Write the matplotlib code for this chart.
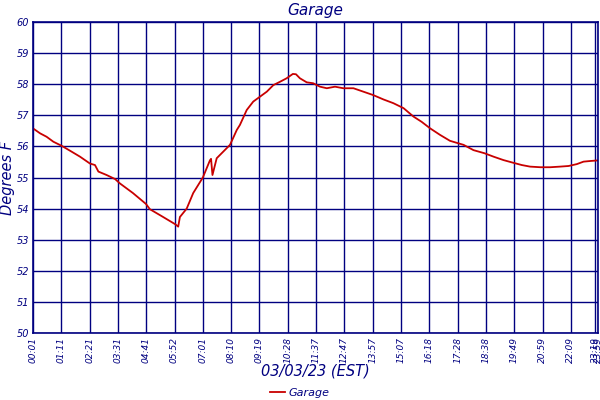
import matplotlib
matplotlib.use("Agg")
import matplotlib.pyplot as plt

# position along the x axis, in grid-column units (one column per tick label)
pos = [0.00, 0.25, 0.48, 0.72, 1.01, 1.31, 1.66, 2.01, 2.19, 2.31, 2.60, 2.90,
       3.07, 3.53, 3.99, 4.13, 4.56, 5.02, 5.13, 5.19, 5.43, 5.66, 6.00, 6.25,
       6.29, 6.34, 6.49, 6.96, 7.20, 7.31, 7.55, 7.78, 8.02, 8.26, 8.49, 8.73,
       8.96, 9.18, 9.29, 9.43, 9.67, 9.90, 10.14, 10.38, 10.67, 10.96, 11.32,
       11.67, 12.02, 12.38, 12.73, 13.09, 13.44, 13.73, 14.03, 14.38, 14.73,
       14.95, 15.21, 15.56, 15.95, 16.27, 16.62, 16.94, 17.27, 17.56, 17.93,
       18.27, 18.62, 18.92, 19.21, 19.45, 19.68, 19.96]
temp = [56.58, 56.42, 56.31, 56.15, 56.02, 55.86, 55.67, 55.45, 55.40, 55.19,
        55.08, 54.95, 54.81, 54.50, 54.15, 53.98, 53.75, 53.50, 53.42, 53.73,
        54.00, 54.50, 55.00, 55.55, 55.60, 55.08, 55.62, 56.05, 56.53, 56.69,
        57.17, 57.44, 57.60, 57.76, 57.97, 58.08, 58.19, 58.33, 58.32, 58.19,
        58.06, 58.03, 57.92, 57.87, 57.92, 57.87, 57.87, 57.76, 57.65, 57.51,
        57.39, 57.23, 56.96, 56.79, 56.58, 56.37, 56.18, 56.12, 56.05, 55.88,
        55.78, 55.67, 55.56, 55.48, 55.40, 55.35, 55.33, 55.33, 55.35, 55.37,
        55.43, 55.51, 55.53, 55.55]

tick_labels = ["00:01", "01:11", "02:21", "03:31", "04:41", "05:52", "07:01",
               "08:10", "09:19", "10:28", "11:37", "12:47", "13:57", "15:07",
               "16:18", "17:28", "18:38", "19:49", "20:59", "22:09", "23:19",
               "23:59"]
tick_pos = list(range(20)) + [19.86, 19.96]
y_ticks = [50, 51, 52, 53, 54, 55, 56, 57, 58, 59, 60]

navy = "#000080"
red = "#c80000"

fig = plt.figure(figsize=(6, 4), dpi=100)
ax = fig.add_axes([33 / 600, 67 / 400, 565 / 600, 311 / 400])

ax.plot(pos, temp, color=red, lw=1.3, label="Garage")

ax.set_xlim(0, 19.96)
ax.set_ylim(50, 60)
ax.set_xticks(tick_pos)
ax.set_xticklabels(tick_labels, rotation=90, fontsize=6.5, style="italic",
                   color=navy)
ax.set_yticks(y_ticks)
ax.set_yticklabels([str(v) for v in y_ticks], fontsize=7, style="italic",
                   color=navy)
ax.tick_params(length=0, pad=3)
ax.grid(True, color=navy, lw=1.0)
for s in ax.spines.values():
    s.set_color(navy)
    s.set_linewidth(1.2)

ax.set_title("Garage", fontsize=11, style="italic", color=navy, pad=5)
ax.set_xlabel("03/03/23 (EST)", fontsize=10.5, style="italic", color=navy,
              labelpad=0)
ax.set_ylabel("Degrees F", fontsize=10.5, style="italic", color=navy)
ax.yaxis.set_label_coords(-0.031, 0.5)

fig.legend(loc="lower center", bbox_to_anchor=(0.5, -0.02), frameon=False,
           handlelength=1.3, handletextpad=0.4,
           prop={"size": 8, "style": "italic"}, labelcolor=navy)

fig.savefig("out.png", dpi=100)
